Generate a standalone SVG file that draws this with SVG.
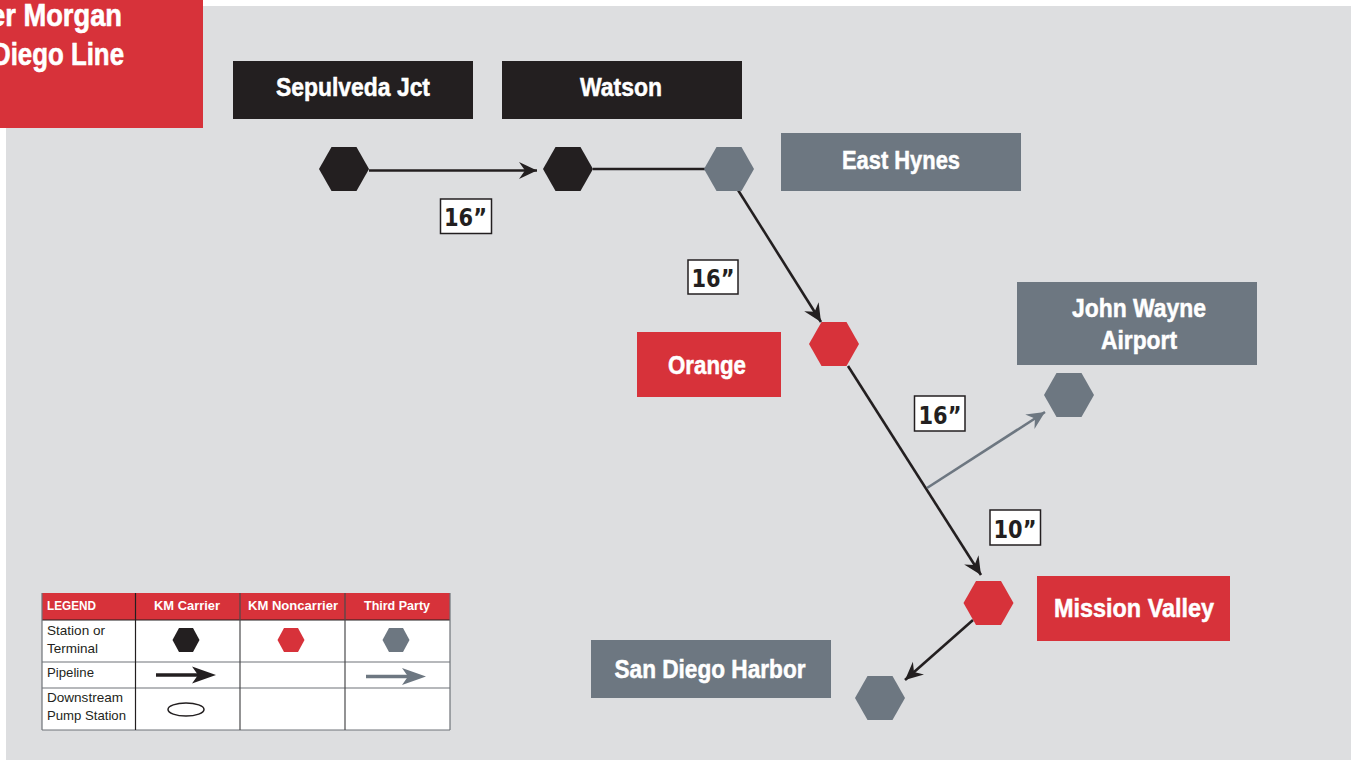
<svg xmlns="http://www.w3.org/2000/svg" width="1354" height="760" viewBox="0 0 1354 760">
<defs>
<style>
text{font-family:"Liberation Sans",Arial,sans-serif}
.l{font-weight:700;font-size:26px;fill:#fff;text-anchor:middle;stroke:#fff;stroke-width:.5}
.sz{font-family:"DejaVu Sans",sans-serif;font-weight:700;font-size:24px;fill:#231f20;text-anchor:middle}
.szb{fill:#fff;stroke:#231f20;stroke-width:1.5}
.k{fill:#231f20}.r{fill:#d7323a}.g{fill:#6d7781}
.c{fill:none;stroke:#231f20;stroke-width:2.6}
.cg{fill:none;stroke:#6d7781;stroke-width:2.6}
.th{font-weight:700;font-size:13px;fill:#fff;text-anchor:middle}
.td{font-size:13.5px;fill:#231f20}
.gl{stroke:#6f7378;stroke-width:1.2}
</style>
<polygon id="hex" points="-25,0 -12.5,-22 12.5,-22 25,0 12.5,22 -12.5,22"/>
<polygon id="hexs" points="-13.5,0 -7,-12 7,-12 13.5,0 7,12 -7,12"/>
<marker id="ak" markerUnits="userSpaceOnUse" markerWidth="22" markerHeight="20" refX="18" refY="9" orient="auto"><path d="M0,0.500 L18,9 L0,17.500 L6,9 Z" fill="#231f20"/></marker>
<marker id="ag" markerUnits="userSpaceOnUse" markerWidth="22" markerHeight="20" refX="18" refY="9" orient="auto"><path d="M0,0.500 L18,9 L0,17.500 L6,9 Z" fill="#6d7781"/></marker>
</defs>
<rect width="1354" height="760" fill="#fff"/>
<rect x="6" y="6" width="1345" height="754" fill="#dddee0"/>
<g id="title"><rect x="0" y="0" width="203" height="128" class="r"/>
<text x="122" y="26" text-anchor="end" font-weight="700" font-size="31" fill="#fff" stroke="#fff" stroke-width=".6" textLength="132" lengthAdjust="spacingAndGlyphs">er Morgan</text>
<text x="124" y="65" text-anchor="end" font-weight="700" font-size="31" fill="#fff" stroke="#fff" stroke-width=".6" textLength="132" lengthAdjust="spacingAndGlyphs">Diego Line</text></g>
<g id="connectors">
<line x1="369" y1="170.500" x2="537" y2="170.500" class="c" marker-end="url(#ak)"/>
<line x1="593" y1="169" x2="705" y2="169" class="c"/>
<line x1="738" y1="190" x2="821" y2="322" class="c" marker-end="url(#ak)"/>
<line x1="848" y1="366" x2="981" y2="575" class="c" marker-end="url(#ak)"/>
<line x1="927" y1="488" x2="1045" y2="412" class="cg" marker-end="url(#ag)"/>
<line x1="973" y1="620" x2="905" y2="680" class="c" marker-end="url(#ak)"/>
</g>
<g id="sepulveda"><rect x="233" y="61" width="240" height="58" class="k"/><text x="353" y="96" class="l" textLength="154" lengthAdjust="spacingAndGlyphs">Sepulveda Jct</text><use href="#hex" x="344" y="169" class="k"/></g>
<g id="watson"><rect x="502" y="61" width="240" height="58" class="k"/><text x="621" y="96" class="l" textLength="82" lengthAdjust="spacingAndGlyphs">Watson</text><use href="#hex" x="568" y="169" class="k"/></g>
<g id="east-hynes"><rect x="781" y="133" width="240" height="58" class="g"/><text x="901" y="169" class="l" textLength="118" lengthAdjust="spacingAndGlyphs">East Hynes</text><use href="#hex" x="729" y="169" class="g"/></g>
<g id="orange"><rect x="637" y="332" width="144" height="65" class="r"/><text x="707" y="374" class="l" textLength="78" lengthAdjust="spacingAndGlyphs">Orange</text><use href="#hex" x="834" y="344" class="r"/></g>
<g id="john-wayne"><rect x="1017" y="282" width="240" height="83" class="g"/><text x="1139" y="317" class="l" textLength="134" lengthAdjust="spacingAndGlyphs">John Wayne</text><text x="1139" y="349" class="l" textLength="76" lengthAdjust="spacingAndGlyphs">Airport</text><use href="#hex" x="1069" y="395" class="g"/></g>
<g id="mission-valley"><rect x="1037" y="576" width="193" height="65" class="r"/><text x="1134" y="617" class="l" textLength="160" lengthAdjust="spacingAndGlyphs">Mission Valley</text><use href="#hex" x="988.500" y="603" class="r"/></g>
<g id="san-diego-harbor"><rect x="591" y="640" width="240" height="58" class="g"/><text x="710" y="678" class="l" textLength="191" lengthAdjust="spacingAndGlyphs">San Diego Harbor</text><use href="#hex" x="880" y="698" class="g"/></g>
<g id="sizes">
<rect x="440.500" y="199" width="51" height="34.500" class="szb"/><text x="465.500" y="226" class="sz" textLength="43" lengthAdjust="spacingAndGlyphs">16”</text>
<rect x="688" y="260" width="50" height="34" class="szb"/><text x="713" y="287" class="sz" textLength="43" lengthAdjust="spacingAndGlyphs">16”</text>
<rect x="914.500" y="396" width="50.500" height="35" class="szb"/><text x="940" y="424" class="sz" textLength="43" lengthAdjust="spacingAndGlyphs">16”</text>
<rect x="990" y="510" width="50.500" height="35" class="szb"/><text x="1015" y="538" class="sz" textLength="43" lengthAdjust="spacingAndGlyphs">10”</text>
</g>
<g id="legend">
<rect x="42" y="593" width="408" height="137" fill="#fff"/>
<rect x="42" y="593" width="408" height="27" class="r"/>
<line x1="42" y1="620" x2="450" y2="620" stroke="#231f20" stroke-width="1"/><line x1="42" y1="662" x2="450" y2="662" class="gl"/><line x1="42" y1="688" x2="450" y2="688" class="gl"/>
<path d="M42,730H450M42,593V730M450,593V730" fill="none" class="gl"/>
<line x1="135.500" y1="593" x2="135.500" y2="730" stroke="#231f20" stroke-width="1.200"/><line x1="240" y1="593" x2="240" y2="730" stroke="#4a4a4c" stroke-width="1.200"/><line x1="345" y1="593" x2="345" y2="730" stroke="#4a4a4c" stroke-width="1.200"/>
<text x="47" y="610" font-weight="700" font-size="13" fill="#fff" textLength="49" lengthAdjust="spacingAndGlyphs">LEGEND</text>
<text x="187" y="610" class="th" textLength="66" lengthAdjust="spacingAndGlyphs">KM Carrier</text>
<text x="293" y="610" class="th" textLength="90" lengthAdjust="spacingAndGlyphs">KM Noncarrier</text>
<text x="397" y="610" class="th" textLength="66" lengthAdjust="spacingAndGlyphs">Third Party</text>
<text x="47" y="635" class="td" textLength="58" lengthAdjust="spacingAndGlyphs">Station or</text>
<text x="47" y="653" class="td" textLength="51" lengthAdjust="spacingAndGlyphs">Terminal</text>
<text x="47" y="677" class="td" textLength="47" lengthAdjust="spacingAndGlyphs">Pipeline</text>
<text x="47" y="702" class="td" textLength="76" lengthAdjust="spacingAndGlyphs">Downstream</text>
<text x="47" y="720" class="td" textLength="79" lengthAdjust="spacingAndGlyphs">Pump Station</text>
<use href="#hexs" x="186" y="640" class="k"/><use href="#hexs" x="291" y="640" class="r"/><use href="#hexs" x="396" y="640" class="g"/>
<line x1="156" y1="675" x2="200" y2="675" stroke="#231f20" stroke-width="3.500"/><path d="M192,666.500 L216,675 L192,683.500 L198,675 Z" class="k"/>
<line x1="366" y1="676.500" x2="410" y2="676.500" stroke="#6d7781" stroke-width="3.500"/><path d="M402,668 L426,676.500 L402,685 L408,676.500 Z" class="g"/>
<ellipse cx="186" cy="709.500" rx="18" ry="6.500" fill="none" stroke="#231f20" stroke-width="1.500"/>
</g>
</svg>
